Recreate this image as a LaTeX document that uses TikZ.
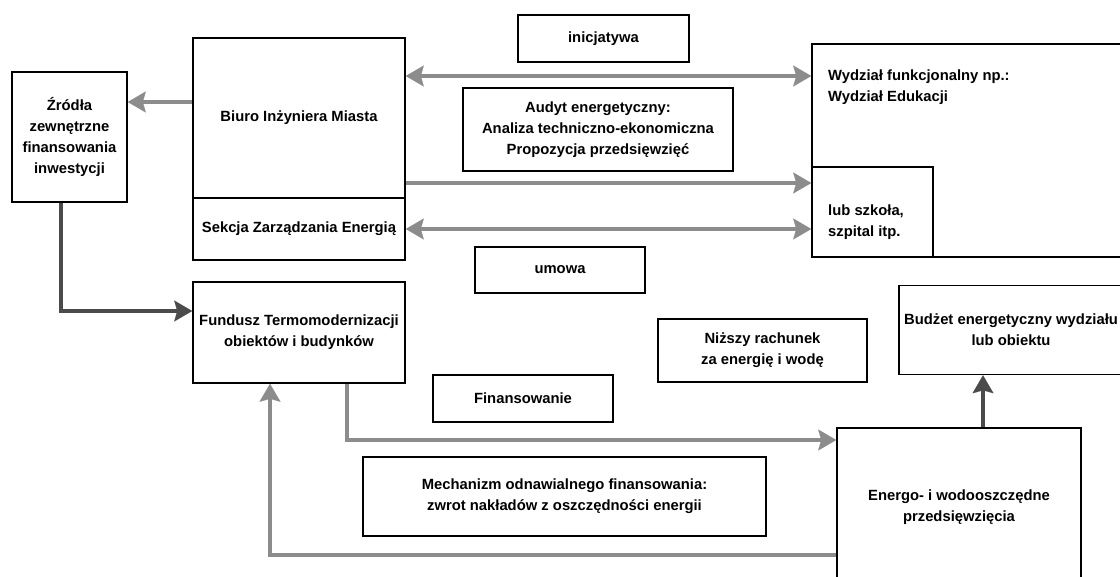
\documentclass[tikz,border=0pt]{standalone}
\usepackage{fontspec}
\setmainfont{Liberation Sans}
\usetikzlibrary{arrows.meta}
\definecolor{arrgray}{RGB}{140,140,140}
\definecolor{darkline}{RGB}{75,75,75}
\begin{document}
\begin{tikzpicture}[x=1pt,y=-1pt,
  box/.style={draw, line width=1.6pt, inner sep=2pt, align=center,
    font=\bfseries\fontsize{14.8}{21}\selectfont},
  txt/.style={inner sep=0pt, align=left, font=\bfseries\fontsize{14.8}{21}\selectfont},
  arr/.style={draw=arrgray, line width=3.5pt, -{Stealth[length=18pt,width=21pt,inset=3pt,line width=0.1pt,fill=arrgray]}},
  darr/.style={draw=arrgray, line width=3.5pt, {Stealth[length=18pt,width=21pt,inset=3pt,line width=0.1pt,fill=arrgray]}-{Stealth[length=18pt,width=21pt,inset=3pt,line width=0.1pt,fill=arrgray]}},
  darkarr/.style={draw=darkline, line width=3.5pt, -{Stealth[length=18pt,width=21pt,inset=3pt,line width=0.1pt,fill=darkline]}}
]
\useasboundingbox (0,0) rectangle (1120,577);
\clip (0,0) rectangle (1120,577);
\fill[white] (0,0) rectangle (1120,577);

% boxes
\node[box, minimum width=115pt, minimum height=130pt] (zr) at (69.5,137) {Źródła\\zewnętrzne\\finansowania\\inwestycji};
\node[box, minimum width=212pt, minimum height=160pt] (biuro) at (299,118) {Biuro Inżyniera Miasta};
\node[box, minimum width=212pt, minimum height=62pt] (sekcja) at (299,229) {Sekcja Zarządzania Energią};
\node[box, minimum width=171pt, minimum height=47pt] (inic) at (603.5,38.5) {inicjatywa};
\node[box, minimum width=270pt, minimum height=83pt] (audyt) at (598,129.5) {Audyt energetyczny:\\Analiza techniczno-ekonomiczna\\Propozycja przedsięwzięć};
\node[box, minimum width=170pt, minimum height=46pt] (umowa) at (560,270) {umowa};
\node[box, minimum width=318pt, minimum height=213pt] (wydz) at (971,150.5) {};
\node[txt, anchor=north west] (wydzt) at (828,70) {Wydział funkcjonalny np.:\\Wydział Edukacji};
\node[box, minimum width=121pt, minimum height=90pt] (lub) at (872.5,212) {};
\node[txt, anchor=west] (lubt) at (828,222) {lub szkoła,\\szpital itp.};
\node[box, minimum width=212pt, minimum height=101pt] (fundusz) at (299,332.5) {Fundusz Termomodernizacji\\obiektów i budynków};
\node[box, minimum width=209pt, minimum height=63pt] (niz) at (762.5,350.5) {Niższy rachunek\\za energię i wodę};
\node[box, minimum width=224pt, minimum height=89pt] (budzet) at (1011,330) {Budżet energetyczny wydziału\\lub obiektu};
\node[box, minimum width=180pt, minimum height=47pt] (finans) at (523,398.5) {Finansowanie};
\node[box, minimum width=403pt, minimum height=79pt] (mech) at (564.5,496.5) {Mechanizm odnawialnego finansowania:\\zwrot nakładów z oszczędności energii};
\node[box, minimum width=244pt, minimum height=158pt] (energo) at (959,507) {Energo- i wodooszczędne\\przedsięwzięcia};

% connectors
\draw[arr] ([yshift=16pt]biuro.west) -- ([yshift=16pt]biuro.west -| zr.east);
\draw[darr] ([yshift=42pt]biuro.east) -- ([yshift=42pt]biuro.east -| wydz.west);
\draw[arr] ([yshift=-65pt]biuro.east) -- ([yshift=-65pt]biuro.east -| lub.west);
\draw[darr] (sekcja.east) -- (sekcja.east -| lub.west);
\draw[darkarr] ([xshift=-8.5pt]zr.south) |- ([yshift=21.5pt]fundusz.west);
\draw[arr] ([xshift=48pt]fundusz.south) |- ([yshift=67pt]energo.west);
\draw[arr] ([yshift=-48pt]energo.west) -| ([xshift=-29pt]fundusz.south);
\draw[darkarr] ([xshift=24pt]energo.north) -- ([xshift=24pt]energo.north |- budzet.south);
\end{tikzpicture}
\end{document}
